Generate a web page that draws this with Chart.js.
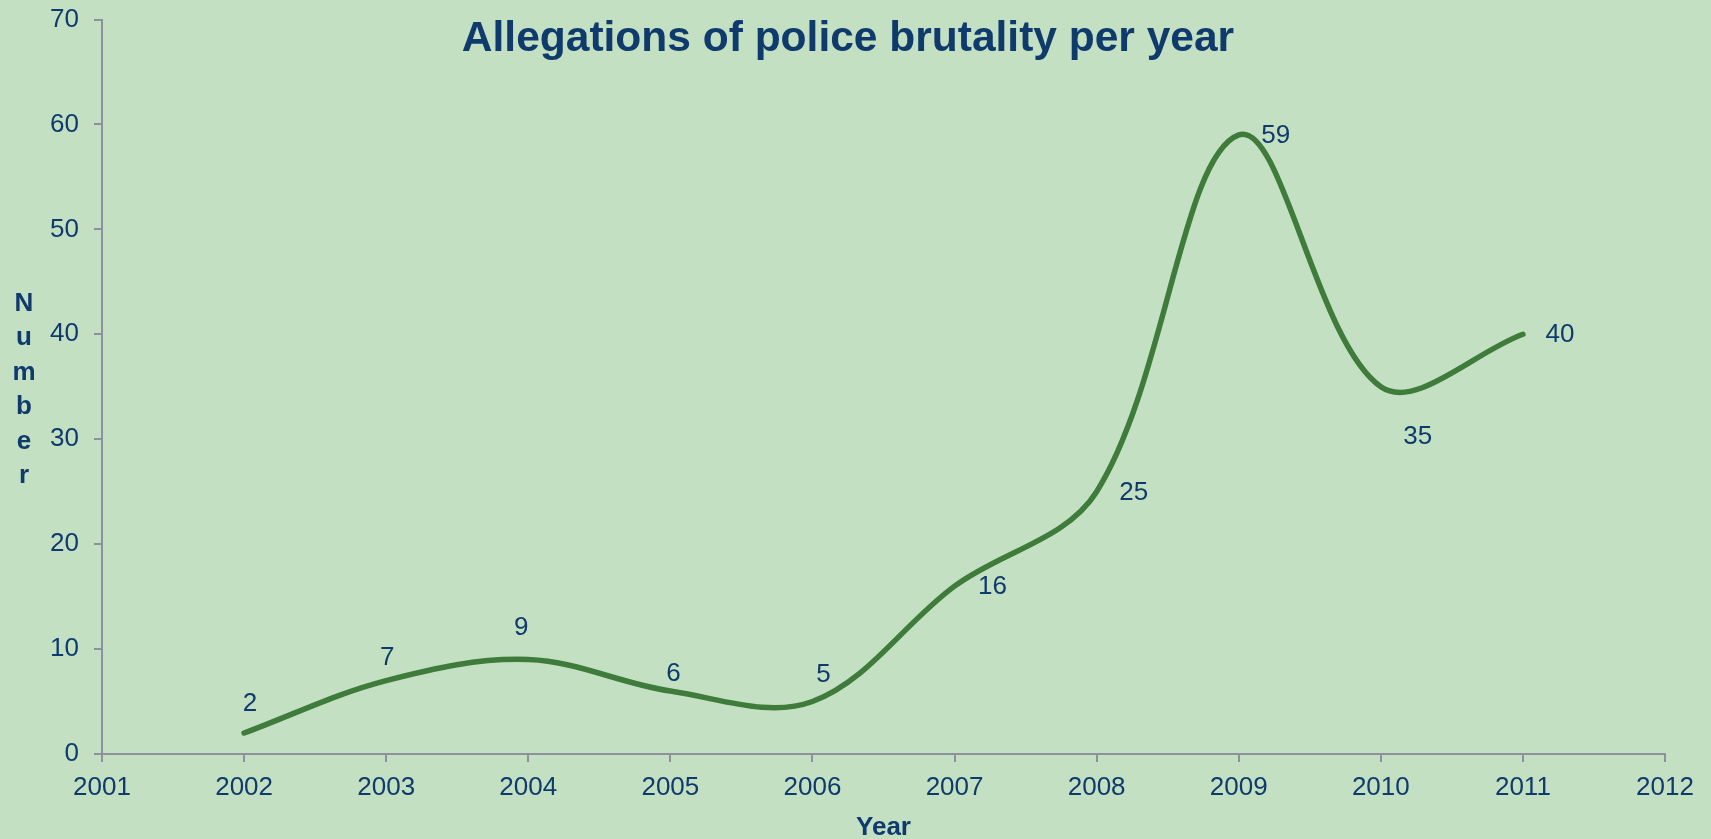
<!DOCTYPE html>
<html>
<head>
<meta charset="utf-8">
<title>Allegations of police brutality per year</title>
<script src="https://cdn.jsdelivr.net/npm/chart.js@4.4.1/dist/chart.umd.min.js"></script>
<style>
    html, body { margin: 0; padding: 0; background: #c3e0c3; }
    #wrap { width: 1711px; height: 839px; }
</style>
</head>
<body>
<div id="wrap"><canvas id="brutalityChart" width="1711" height="839"></canvas></div>
<script>
// --- Data ---
const years = [2002, 2003, 2004, 2005, 2006, 2007, 2008, 2009, 2010, 2011];
const allegations = [2, 7, 9, 6, 5, 16, 25, 59, 35, 40];
const yearTicks = [2001, 2002, 2003, 2004, 2005, 2006, 2007, 2008, 2009, 2010, 2011, 2012];
const countTicks = [0, 10, 20, 30, 40, 50, 60, 70];

// --- Style ---
const NAVY = '#0f3a6c';
const AXIS = '#8f909e';
const LINE = '#3f7b3b';
const FONT = '"Liberation Sans", Arial, sans-serif';

// label nudges (px) relative to each point
const labelNudge = [[6, -29], [1, -23], [-7, -32], [3, -17], [11, -27], [38, 1], [37, 1], [37, 1], [37, 50], [37, 1]];

// --- Value labels next to the line ---
const valueLabels = {
    id: 'valueLabels',
    afterDatasetsDraw(chart) {
        const ctx = chart.ctx;
        const meta = chart.getDatasetMeta(0);
        ctx.save();
        ctx.font = '26px ' + FONT;
        ctx.fillStyle = NAVY;
        ctx.textAlign = 'center';
        ctx.textBaseline = 'middle';
        meta.data.forEach((pt, i) => {
            const n = labelNudge[i];
            ctx.fillText(String(allegations[i]), pt.x + n[0], pt.y + n[1]);
        });
        ctx.restore();
    }
};

// --- Title and stacked y-axis caption ---
const captions = {
    id: 'captions',
    afterDraw(chart) {
        const ctx = chart.ctx;
        ctx.save();
        ctx.fillStyle = NAVY;
        ctx.textAlign = 'center';
        ctx.textBaseline = 'alphabetic';
        ctx.font = 'bold 42.5px ' + FONT;
        ctx.fillText('Allegations of police brutality per year', 848, 51);

        ctx.font = 'bold 26px ' + FONT;
        'Number'.split('').forEach((ch, i) => {
            ctx.fillText(ch, 24, 311 + i * 34.4);
        });
        ctx.restore();
    }
};

new Chart(document.getElementById('brutalityChart'), {
    type: 'line',
    data: {
        datasets: [{
            data: years.map((y, i) => ({ x: y, y: allegations[i] })),
            borderColor: LINE,
            borderWidth: 5.5,
            borderCapStyle: 'round',
            tension: 0.35,
            pointRadius: 0,
            fill: false
        }]
    },
    options: {
        responsive: false,
        animation: false,
        layout: { padding: { top: 19.5, right: 46, left: 0, bottom: 0 } },
        plugins: {
            legend: { display: false },
            tooltip: { enabled: false }
        },
        scales: {
            x: {
                type: 'linear',
                min: 2001,
                max: 2012,
                afterBuildTicks: (scale) => { scale.ticks = yearTicks.map(v => ({ value: v })); },
                afterFit: (scale) => { scale.height = 85; },
                grid: { drawOnChartArea: false, drawTicks: true, tickLength: 8, color: AXIS, lineWidth: 2 },
                border: { color: AXIS, width: 2 },
                ticks: {
                    color: NAVY,
                    font: { family: FONT, size: 26 },
                    padding: 10,
                    maxRotation: 0,
                    autoSkip: false,
                    callback: (v) => String(v)
                },
                title: {
                    display: true,
                    text: 'Year',
                    color: NAVY,
                    font: { family: FONT, size: 26, weight: 'bold' },
                    padding: { top: 0, bottom: -4 }
                }
            },
            y: {
                min: 0,
                max: 70,
                afterBuildTicks: (scale) => { scale.ticks = countTicks.map(v => ({ value: v })); },
                afterFit: (scale) => {
                    scale.width = 102;
                    scale.paddingTop = 0;
                },
                grid: { drawOnChartArea: false, drawTicks: true, tickLength: 8, color: AXIS, lineWidth: 2 },
                border: { color: AXIS, width: 2 },
                ticks: {
                    color: NAVY,
                    font: { family: FONT, size: 26 },
                    padding: 15,
                    callback: (v) => String(v)
                }
            }
        }
    },
    plugins: [valueLabels, captions]
});
</script>
</body>
</html>
